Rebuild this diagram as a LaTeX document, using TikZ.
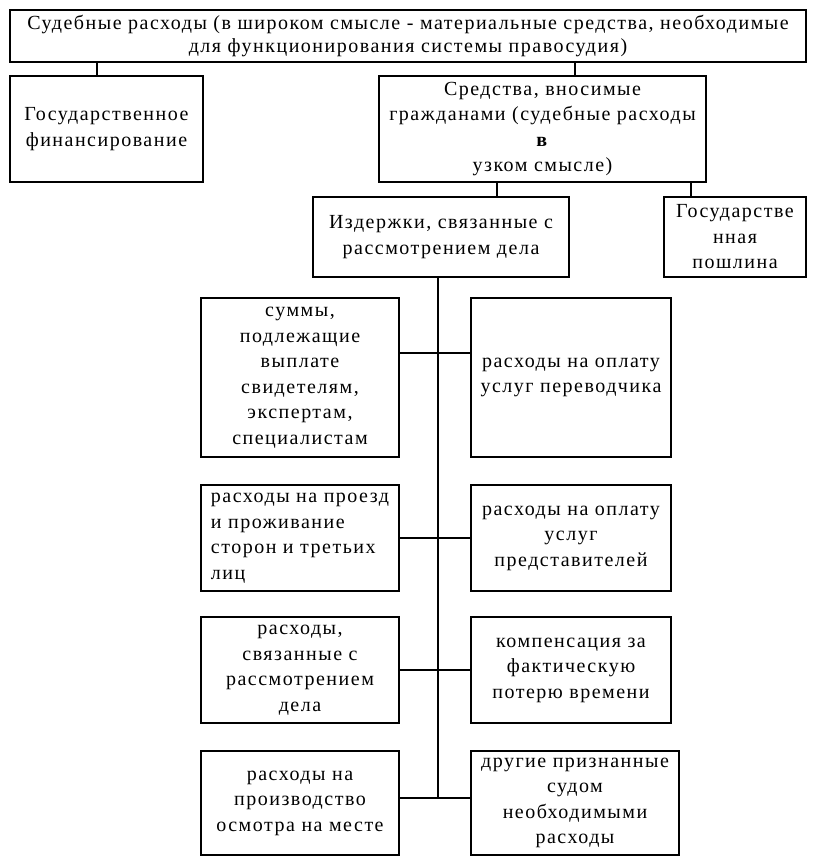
\documentclass[tikz,border=0pt]{standalone}
\usepackage{fontspec}
\setmainfont{Liberation Serif}[LetterSpace=7.5]

\begin{document}
\begin{tikzpicture}[x=1pt,y=-1pt,line width=1.1pt]
  \tikzstyle{box}=[draw,rectangle,inner sep=0pt,align=center,font=\fontsize{20}{25.5}\selectfont]

  \useasboundingbox (0,0) rectangle (816,864);

  \node[box,minimum width=796pt,minimum height=52pt,font=\fontsize{20}{23}\selectfont]
    (sud)  at (408,36)    {Судебные расходы (в широком смысле - материальные средства, необходимые\\для функционирования системы правосудия)};
  \node[box,minimum width=193pt,minimum height=106pt] (gos)  at (106.5,129)  {Государственное\\финансирование};
  \node[box,minimum width=327pt,minimum height=106pt] (sred) at (542.5,129)  {Средства, вносимые\\гражданами (судебные расходы\\\textbf{в}\\узком смысле)};
  \node[box,minimum width=256pt,minimum height=80pt]  (izd)  at (441,237)    {Издержки, связанные с\\рассмотрением дела};
  \node[box,minimum width=142pt,minimum height=80pt]  (posh) at (735,237)    {Государстве\\нная\\пошлина};

  \node[box,minimum width=198pt,minimum height=159pt] (s_1) at (300,377.5) {суммы,\\подлежащие\\выплате\\свидетелям,\\экспертам,\\специалистам};
  \node[box,minimum width=200pt,minimum height=159pt] (r_1) at (571,377.5) {расходы на оплату\\услуг переводчика};
  \node[box,minimum width=198pt,minimum height=106pt,align=left] (s_2) at (300,538) {расходы на проезд\\и проживание\\сторон и третьих\\лиц};
  \node[box,minimum width=200pt,minimum height=106pt] (r_2) at (571,538) {расходы на оплату\\услуг\\представителей};
  \node[box,minimum width=198pt,minimum height=106pt] (s_3) at (300,670) {расходы,\\связанные с\\рассмотрением\\дела};
  \node[box,minimum width=200pt,minimum height=106pt] (r_3) at (571,670) {компенсация за\\фактическую\\потерю времени};
  \node[box,minimum width=198pt,minimum height=104pt] (s_4) at (300,803) {расходы на\\производство\\осмотра на месте};
  \node[box,minimum width=208pt,minimum height=104pt] (r_4) at (575,803) {другие признанные\\судом\\необходимыми\\расходы};

  \coordinate (bot) at (438,798);

  % upper levels
  \draw ([xshift=-9.5pt]gos.north) -- ([xshift=-9.5pt]gos.north |- sud.south);
  \draw ([xshift=32.5pt]sred.north) -- ([xshift=32.5pt]sred.north |- sud.south);
  \draw ([xshift=56pt]izd.north) -- ([xshift=56pt]izd.north |- sred.south);
  \draw ([xshift=-44pt]posh.north) -- ([xshift=-44pt]posh.north |- sred.south);

  % trunk and rows
  \draw (bot |- izd.south) -- (bot);
  \draw ([yshift=24.5pt]s_1.east) -- ([yshift=24.5pt]s_1.east -| r_1.west);
  \draw (s_2.east) -- (r_2.west);
  \draw (s_3.east) -- (r_3.west);
  \draw ([yshift=5pt]s_4.east) -- ([yshift=5pt]s_4.east -| r_4.west);
\end{tikzpicture}
\end{document}
